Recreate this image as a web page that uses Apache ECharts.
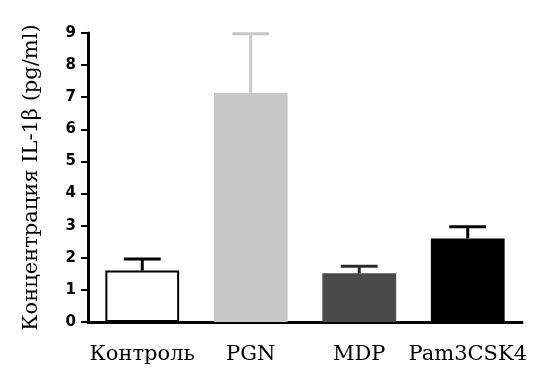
<!DOCTYPE html>
<html><head><meta charset="utf-8">
<script src="https://cdn.jsdelivr.net/npm/echarts@6/dist/echarts.min.js"></script>
<style>html,body{margin:0;padding:0;background:#fff}#c{width:560px;height:383px}</style>
</head><body><div id="c"></div>
<script>
const categories = ['Контроль', 'PGN', 'MDP', 'Pam3CSK4'];
const means = [1.6, 7.14, 1.52, 2.6];
const errUpper = [1.96, 8.98, 1.74, 2.97];
const barColors = ['#ffffff', '#c8c8c8', '#4a4a4a', '#000000'];
const errColors = ['#000000', '#c8c8c8', '#2a2a2a', '#000000'];
const yTicks = [0, 1, 2, 3, 4, 5, 6, 7, 8, 9];

const chart = echarts.init(document.getElementById('c'));
chart.setOption({
  animation: false,
  grid: {left: 88, right: 38, top: 33, bottom: 61},
  xAxis: {
    type: 'category', data: categories,
    axisLine: {lineStyle: {color: '#000', width: 3}},
    axisTick: {show: false},
    axisLabel: {color: '#000', fontFamily: 'DejaVu Serif', fontSize: 21, margin: 22, interval: 0}
  },
  yAxis: {
    type: 'value', min: yTicks[0], max: yTicks[yTicks.length - 1], interval: 1,
    name: 'Концентрация IL-1β (pg/ml)', nameLocation: 'middle', nameGap: 46,
    nameTextStyle: {color: '#000', fontFamily: 'DejaVu Serif', fontSize: 21},
    axisLine: {show: true, lineStyle: {color: '#000', width: 3}},
    axisTick: {show: true, length: 7, lineStyle: {color: '#000', width: 2}},
    axisLabel: {color: '#000', fontFamily: 'DejaVu Sans', fontWeight: 'bold', fontSize: 15, margin: 12},
    splitLine: {show: false}
  },
  series: [
    {
      type: 'bar', barWidth: '68%',
      data: means.map((v, i) => ({
        value: v,
        itemStyle: {color: barColors[i], borderColor: i === 0 ? '#000' : barColors[i], borderWidth: i === 0 ? 2 : 0}
      })),
      z: 2
    },
    {
      type: 'custom', z: 3,
      data: means.map((v, i) => [i, v, errUpper[i]]),
      renderItem: function (params, api) {
        const i = api.value(0);
        const base = api.coord([i, api.value(1)]);
        const top = api.coord([i, api.value(2)]);
        const half = api.size([1, 0])[0] * 0.17;
        const st = {stroke: errColors[i], lineWidth: 3};
        return {type: 'group', children: [
          {type: 'line', shape: {x1: base[0], y1: base[1], x2: top[0], y2: top[1]}, style: st},
          {type: 'line', shape: {x1: top[0] - half, y1: top[1], x2: top[0] + half, y2: top[1]}, style: st}
        ]};
      }
    }
  ]
});
</script></body></html>
